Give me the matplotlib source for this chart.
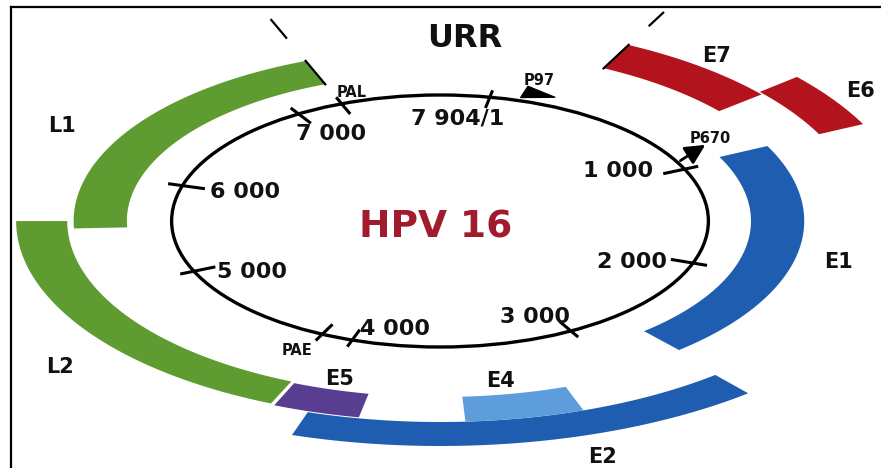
import numpy as np
import matplotlib.pyplot as plt
from matplotlib.patches import Polygon, Circle

# genome scale of the drawing: bp -> degrees clockwise from 12 o'clock
scale_bp = [0, 1000, 2000, 3000, 4000, 5000, 6000, 7000, 7904]
scale_deg = [10.7, 65.7, 109.5, 150.8, 199.1, 246.5, 286.3, 328.2, 370.7]

# open reading frames (as drawn)
genes = ['E7', 'E6', 'E1', 'E2', 'E4', 'E5', 'L2', 'L1']
gene_start = [291, 702, 969, 2738, 3199, 3832, 4093, 5528]
gene_end = [715, 969, 2714, 3977, 3534, 4080, 5590, 7219]

# position ticks
tick_bp = [7904, 1000, 2000, 3000, 4000, 5000, 6000, 7000]
tick_labels = ['7 904/1', '1 000', '2 000', '3 000', '4 000', '5 000', '6 000', '7 000']

# promoters and polyadenylation sites
promoters = ['P97', 'P670']
promoter_bp = [170, 930]
polya = ['PAL', 'PAE']
polya_bp = [7219, 4146]

urr_start, urr_end = 7219, 291

# ---- layout (pixels of the 881x468 picture, circle drawn stretched) ----
SX = 2.13          # horizontal stretch of the circle
CX, CY = 440, 221  # circle centre in pixels
R = 126

ring = {'E7': (171, 197), 'E6': (198, 221), 'E1': (146, 171), 'E2': (201, 225),
        'E4': (176, 201), 'E5': (176, 200), 'L2': (175, 199), 'L1': (147, 172)}
colours = {'E7': '#b3131d', 'E6': '#b3131d', 'E1': '#1f5db0', 'E2': '#1f5db0',
           'E4': '#5d9ddb', 'E5': '#583d91', 'L2': '#5e9b30', 'L1': '#5e9b30'}
gene_text = {'E7': (717, 62), 'E6': (861, 97), 'E1': (838, 268), 'E2': (603, 463),
             'E4': (501, 387), 'E5': (340, 385), 'L2': (60, 373), 'L1': (62, 132)}
tick_text = {'7 904/1': (458, 125, 'center'), '1 000': (653, 177, 'right'),
             '2 000': (667, 268, 'right'), '3 000': (535, 323, 'center'),
             '4 000': (395, 335, 'center'), '5 000': (217, 278, 'left'),
             '6 000': (210, 198, 'left'), '7 000': (331, 140, 'center')}
small_text = {'P97': (539, 85), 'P670': (710, 143), 'PAL': (352, 97), 'PAE': (297, 355)}

plt.rcParams['font.family'] = 'DejaVu Sans'


def deg(bp):
    return np.radians(np.interp(bp, scale_bp, scale_deg))


def polar(bp, r):
    t = deg(bp)
    return r * np.sin(t), r * np.cos(t)


def px(x, y):
    return (x - CX) / SX, CY - y


fig = plt.figure(figsize=(8.81, 4.68), dpi=100)
ax = fig.add_axes([0, 0, 1, 1])
ax.set_xlim(-CX / SX, (881 - CX) / SX)
ax.set_ylim(CY - 468, CY)
ax.axis('off')

# frame (top and left edges)
ax.plot([0.012, 1], [0.985, 0.985], color='black', lw=1.6, transform=ax.transAxes, clip_on=False)
ax.plot([0.012, 0.012], [0, 0.985], color='black', lw=1.6, transform=ax.transAxes, clip_on=False)

# genome circle (stretched by the axes into an ellipse)
ax.add_patch(Circle((0, 0), R, fill=False, edgecolor='black', lw=2.4))

# gene bands
for g, s, e in zip(genes, gene_start, gene_end):
    r0, r1 = ring[g]
    bp = np.linspace(s, e, 80)
    xo, yo = polar(bp, r1)
    xi, yi = polar(bp[::-1], r0)
    pts = np.column_stack([np.r_[xo, xi], np.r_[yo, yi]])
    ax.add_patch(Polygon(pts, closed=True, facecolor=colours[g], edgecolor='none'))
    x, y = px(*gene_text[g])
    ax.text(x, y, g, fontsize=15, fontweight='bold', ha='center', va='baseline', color='#111111')

# black caps at the URR borders
for bp, r0, r1 in [(urr_start, 146, 173), (urr_end, 170, 198),
                   (urr_start, 196, 217), (urr_end, 218, 234)]:
    x0, y0 = polar(bp, r0)
    x1, y1 = polar(bp, r1)
    ax.plot([x0, x1], [y0, y1], color='black', lw=1.6, solid_capstyle='butt')

# ticks
for bp in tick_bp + polya_bp:
    x0, y0 = polar(bp, 115)
    x1, y1 = polar(bp, 133)
    ax.plot([x0, x1], [y0, y1], color='black', lw=2.2, solid_capstyle='butt')

for lab in tick_labels:
    xp, yp, ha = tick_text[lab]
    x, y = px(xp, yp)
    ax.text(x, y, lab, fontsize=16, fontweight='bold', ha=ha, va='baseline', color='#111111')

# promoters
b = promoter_bp[0]
tri = [polar(b - 55, 129), polar(b - 55, 141), polar(b + 65, 135)]
ax.add_patch(Polygon(tri, closed=True, facecolor='black', edgecolor='black', lw=0.8))
b = promoter_bp[1]
ax.annotate('', xy=polar(b - 60, 146), xytext=polar(b, 128),
            arrowprops=dict(arrowstyle='-|>,head_length=0.6,head_width=0.3',
                            mutation_scale=20, lw=2, color='black',
                            shrinkA=0, shrinkB=0))

for lab in promoters + polya:
    x, y = px(*small_text[lab])
    ax.text(x, y, lab, fontsize=10.5, fontweight='bold', ha='center', va='baseline', color='#111111')

x, y = px(465, 47)
ax.text(x, y, 'URR', fontsize=23, fontweight='bold', ha='center', va='baseline', color='#111111')
x, y = px(436, 237)
ax.text(x, y, 'HPV 16', fontsize=27, fontweight='bold', ha='center', va='baseline', color='#a01c2c')

fig.savefig('out.png', dpi=100)
